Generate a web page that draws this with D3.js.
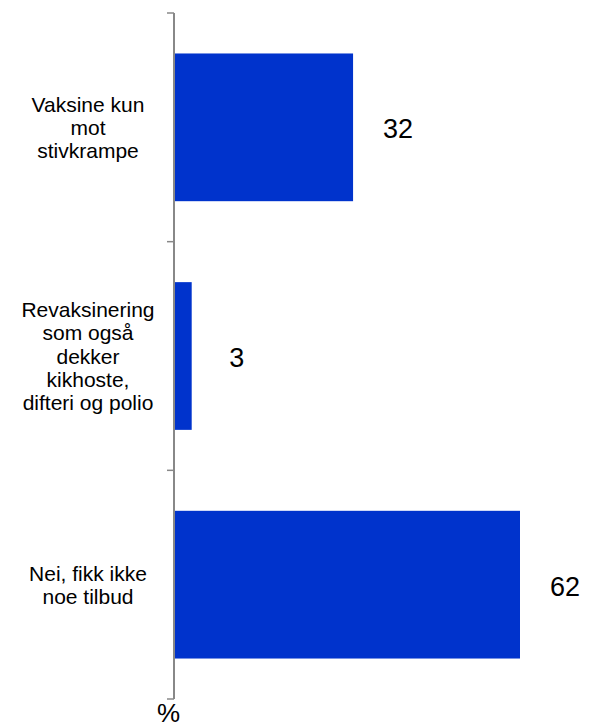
<!DOCTYPE html>
<html>
  <head>
    <meta charset="utf-8">
    <script src="https://d3js.org/d3.v7.min.js"></script>
    <style>
      body { margin: 0; background: #fff; }
      text { font-family: "Liberation Sans", Arial, sans-serif; fill: #000; }
    </style>
  </head>
  <body>
    <svg id="chart" width="589" height="728"></svg>
    <script>
      // Data
      var categories = [
        ["Vaksine kun", "mot", "stivkrampe"],
        ["Revaksinering", "som også", "dekker", "kikhoste,", "difteri og polio"],
        ["Nei, fikk ikke", "noe tilbud"]
      ];
      var values = [32, 3, 62];
      var unitLabel = "%";

      var svg = d3.select("#chart");

      // Scales
      var y = d3.scaleBand()
        .domain(d3.range(categories.length))
        .range([13, 699])
        .paddingInner(0.354)
        .paddingOuter(0.177);

      var x = d3.scaleLinear().domain([0, 62]).range([175, 520]);

      var step = y.step();
      var axisX = 174;

      // Bars
      svg.selectAll("rect.bar")
        .data(values)
        .enter()
        .append("rect")
        .attr("class", "bar")
        .attr("x", x(0))
        .attr("y", function (d, i) { return y(i); })
        .attr("width", function (d) { return x(d) - x(0); })
        .attr("height", y.bandwidth())
        .attr("fill", "#0033cc");

      // Axis line and ticks at band boundaries
      svg.append("line")
        .attr("x1", axisX).attr("x2", axisX)
        .attr("y1", 13).attr("y2", 699)
        .attr("stroke", "#888")
        .attr("stroke-width", 2);

      svg.selectAll("line.tick")
        .data(d3.range(categories.length + 1))
        .enter()
        .append("line")
        .attr("class", "tick")
        .attr("x1", 167).attr("x2", axisX)
        .attr("y1", function (i) { return 13 + i * step; })
        .attr("y2", function (i) { return 13 + i * step; })
        .attr("stroke", "#888")
        .attr("stroke-width", 1.5);

      // Category labels
      var lineH = 23.3;
      categories.forEach(function (lines, i) {
        var cy = y(i) + y.bandwidth() / 2;
        var t = svg.append("text")
          .attr("text-anchor", "middle")
          .attr("font-size", 21);
        lines.forEach(function (l, j) {
          t.append("tspan")
            .attr("x", 88)
            .attr("y", cy - (lines.length - 1) / 2 * lineH + j * lineH + 7.5)
            .text(l);
        });
      });

      // Value labels
      svg.selectAll("text.val")
        .data(values)
        .enter()
        .append("text")
        .attr("class", "val")
        .attr("text-anchor", "middle")
        .attr("font-size", 27)
        .attr("x", function (d) { return x(d) + 45; })
        .attr("y", function (d, i) { return y(i) + y.bandwidth() / 2 + 11; })
        .text(function (d) { return d; });

      // Unit label
      svg.append("text")
        .attr("text-anchor", "middle")
        .attr("font-size", 26)
        .attr("x", 168.5)
        .attr("y", 722)
        .text(unitLabel);
    </script>
  </body>
</html>
